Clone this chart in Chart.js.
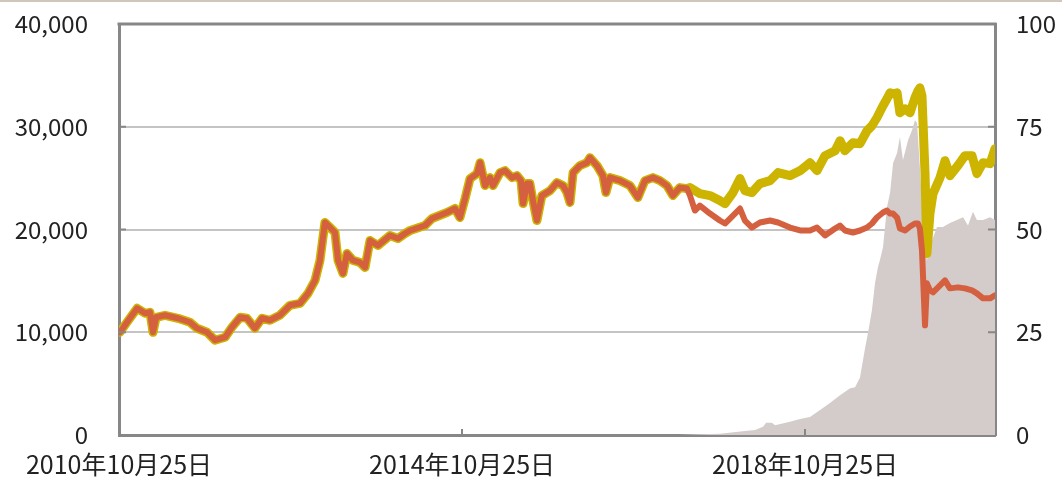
<!DOCTYPE html>
<html>
<head>
<meta charset="utf-8">
<script src="https://cdn.jsdelivr.net/npm/chart.js@4.4.0/dist/chart.umd.min.js"></script>
<style>
    html, body { margin: 0; padding: 0; background: #fff; }
    #wrap { position: relative; width: 1062px; height: 480px; }
    #topRule { position: absolute; left: 0; top: 0; width: 1062px; height: 2px; background: #cfc7ba; }
</style>
</head>
<body>
<div id="wrap">
    <canvas id="dashboardGraph"></canvas>
    <div id="topRule"></div>
</div>
<script>
// x = days since 2010-10-25
const tickDays = [0, 1461, 2922]
const tickLabels = ['2010年10月25日', '2014年10月25日', '2018年10月25日']

const lineDays = [4, 34, 77, 111, 132, 145, 158, 196, 251, 302,
    332, 375, 409, 452, 481, 516, 545, 579, 609, 643,
    685, 728, 771, 805, 835, 856, 877, 899, 920, 933,
    954, 971, 997, 1026, 1048, 1069, 1103, 1154, 1188, 1218,
    1240, 1303, 1333, 1397, 1431, 1452, 1474, 1495, 1525, 1538,
    1559, 1580, 1593, 1623, 1644, 1674, 1695, 1712, 1721, 1738,
    1750, 1763, 1780, 1801, 1836, 1865, 1891, 1908, 1921, 1934,
    1963, 1993, 2006, 2036, 2061, 2074, 2091, 2134, 2176, 2210,
    2240, 2274, 2304, 2334, 2359, 2389, 2419,
    2432, 2453, 2474, 2517, 2559, 2581, 2615, 2645, 2666, 2696,
    2730, 2773, 2807, 2858, 2901, 2943, 2973, 3007, 3050, 3071,
    3092, 3126, 3156, 3186, 3207, 3228, 3254, 3271, 3284, 3297,
    3314, 3326, 3348, 3369, 3390, 3403, 3411, 3420, 3433, 3441,
    3454, 3467, 3497, 3518, 3539, 3573, 3603, 3633, 3654, 3680,
    3710, 3731]

// both lines are the same until late 2017
const sharedVals = [10000, 10971, 12330, 11845, 11942, 10000, 11457, 11651, 11360, 10971,
    10389, 10000, 9224, 9515, 10486, 11457, 11360, 10389, 11360, 11165,
    11651, 12622, 12816, 13787, 15049, 16991, 20680, 20194, 19709, 16991,
    15729, 17670, 16991, 16797, 16311, 18933, 18447, 19418, 19127, 19612,
    19903, 20389, 21069, 21651, 22039, 21166, 23010, 24952, 25438, 26506,
    24273, 25049, 24273, 25535, 25729, 25049, 25243, 24758, 22525, 24467,
    24467, 22816, 20874, 23302, 23787, 24564, 24273, 23593, 22622, 25535,
    26214, 26506, 26991, 26214, 25243, 23593, 25049, 24758, 24273, 23107,
    24758, 25049, 24758, 24273, 23302, 24078, 23981]

const yellowLate = [24078, 23787, 23496, 23302, 22816, 22525, 23593, 24952, 23787, 23593,
    24467, 24758, 25535, 25243, 25729, 26506, 25729, 27185, 27671, 28642,
    27671, 28447, 28350, 29612, 30098, 30875, 32040, 32719, 33302, 33205,
    33302, 31360, 31748, 31360, 32816, 33496, 33787, 33011, 25438, 17670,
    21554, 23496, 25049, 26700, 25243, 26214, 27185, 27185, 25438, 26506,
    26408, 27865]

const orangeLate = [23302, 21845, 22331, 21554, 20874, 20583, 21360, 22039, 20874, 20194,
    20680, 20874, 20680, 20194, 19903, 19903, 20194, 19418, 20097, 20389,
    19903, 19709, 19903, 20194, 20583, 21166, 21651, 21845, 21554, 21554,
    21166, 20097, 19903, 20291, 20583, 20583, 20097, 17961, 10680, 14757,
    14078, 13884, 14563, 15049, 14272, 14369, 14272, 14078, 13787, 13301,
    13301, 13593]

// grey area, right axis
const areaDays = [2380, 2474, 2559, 2666, 2709, 2743, 2756, 2781, 2794, 2858,
    2901, 2943, 2986, 3028, 3071, 3114, 3135, 3156, 3177, 3190,
    3207, 3220, 3233, 3241, 3254, 3271, 3284, 3297, 3314, 3326,
    3339, 3361, 3378, 3390, 3399, 3411, 3424, 3441, 3454, 3467,
    3484, 3509, 3539, 3569, 3595, 3616, 3637, 3654, 3680, 3710,
    3731]
const areaVals = [0, 0.2, 0.3, 1.0, 1.2, 2.0, 3.0, 3.0, 2.4, 3.2,
    3.9, 4.4, 6.1, 7.8, 9.7, 11.4, 11.6, 14, 20.9, 24.8,
    30.4, 37, 41, 42.6, 45.7, 55.5, 58.9, 66.2, 68.6, 72.5,
    66.9, 71.8, 74.2, 76.6, 75.9, 65.2, 52.3, 42.6, 45.7, 48,
    50.6, 50.6, 51.6, 52.3, 53, 51, 54.3, 52.3, 52.3, 53,
    52.3]

const yellowVals = sharedVals.concat(yellowLate)
const orangeVals = sharedVals.concat(orangeLate)

const toPoints = (xs, ys) => xs.map((x, i) => ({x: x, y: ys[i]}))

Chart.defaults.font.family = '"Noto Sans CJK JP", "Noto Sans", sans-serif'
Chart.defaults.color = '#222'

// top frame line + inward tick marks
const frame = {
    id: 'frame',
    afterDraw(chart) {
        const c = chart.ctx, a = chart.chartArea
        const x = chart.scales.x, yl = chart.scales.y, yr = chart.scales.y1
        c.save()
        c.strokeStyle = '#878787'
        c.lineWidth = 3
        c.beginPath()
        c.moveTo(a.left - 1.5, a.top)
        c.lineTo(a.right + 1.5, a.top)
        c.stroke()
        c.lineWidth = 2
        c.beginPath()
        tickDays.slice(1).forEach(d => {
            const px = Math.round(x.getPixelForValue(d))
            c.moveTo(px, a.bottom)
            c.lineTo(px, a.bottom - 6)
        })
        ;[10000, 20000, 30000].forEach(v => {
            const py = yl.getPixelForValue(v)
            c.moveTo(a.left, py)
            c.lineTo(a.left + 7, py)
        })
        ;[25, 50, 75].forEach(v => {
            const py = yr.getPixelForValue(v)
            c.moveTo(a.right, py)
            c.lineTo(a.right - 7, py)
        })
        c.stroke()
        c.restore()
    }
}

const ctx = document.getElementById('dashboardGraph')

const data = {
    datasets: [
        {
            label: 'orange',
            data: toPoints(lineDays, orangeVals),
            borderColor: '#d5603f',
            borderWidth: 6,
            pointRadius: 0,
            borderJoinStyle: 'round',
            borderCapStyle: 'round',
            yAxisID: 'y',
            order: 0
        },
        {
            label: 'yellow',
            data: toPoints(lineDays, yellowVals),
            borderColor: '#ccb400',
            borderWidth: 9,
            pointRadius: 0,
            borderJoinStyle: 'round',
            borderCapStyle: 'round',
            yAxisID: 'y',
            order: 1
        },
        {
            label: 'area',
            data: toPoints(areaDays, areaVals),
            borderWidth: 0,
            backgroundColor: 'rgb(211,204,202)',
            fill: 'origin',
            pointRadius: 0,
            yAxisID: 'y1',
            order: 2
        }
    ]
}

// label gaps are done with invisible tick marks, ticks.padding would push the plot top down
const config = {
    type: 'line',
    data: data,
    plugins: [frame],
    options: {
        responsive: true,
        maintainAspectRatio: false,
        animation: false,
        layout: { padding: { top: 24 } },
        plugins: {
            legend: { display: false },
            tooltip: { enabled: false }
        },
        scales: {
            x: {
                type: 'linear',
                min: 0,
                max: 3731,
                afterBuildTicks: (scale) => { scale.ticks = tickDays.map(v => ({value: v})) },
                afterFit: (scale) => { scale.height = 45 },
                grid: { display: false, drawTicks: false },
                border: { color: '#878787', width: 3 },
                ticks: {
                    autoSkip: false,
                    maxRotation: 0,
                    padding: 14,
                    font: { size: 25 },
                    callback: (value, index) => tickLabels[index]
                }
            },
            y: {
                position: 'left',
                min: 0,
                max: 40000,
                afterFit: (scale) => { scale.width = 119 },
                grid: { color: '#c4c4c4', lineWidth: 2, drawTicks: true, tickLength: 31, tickColor: 'rgba(0,0,0,0)' },
                border: { color: '#878787', width: 3 },
                ticks: {
                    stepSize: 10000,
                    padding: 0,
                    font: { size: 24 },
                    callback: (value) => value.toLocaleString('en-US')
                }
            },
            y1: {
                position: 'right',
                min: 0,
                max: 100,
                afterFit: (scale) => { scale.width = 67 },
                grid: { drawOnChartArea: false, drawTicks: true, tickLength: 21, tickColor: 'rgba(0,0,0,0)' },
                border: { color: '#878787', width: 3 },
                ticks: {
                    stepSize: 25,
                    padding: 0,
                    font: { size: 24 }
                }
            }
        }
    }
}

const myChart = new Chart(ctx, config)
</script>
</body>
</html>
